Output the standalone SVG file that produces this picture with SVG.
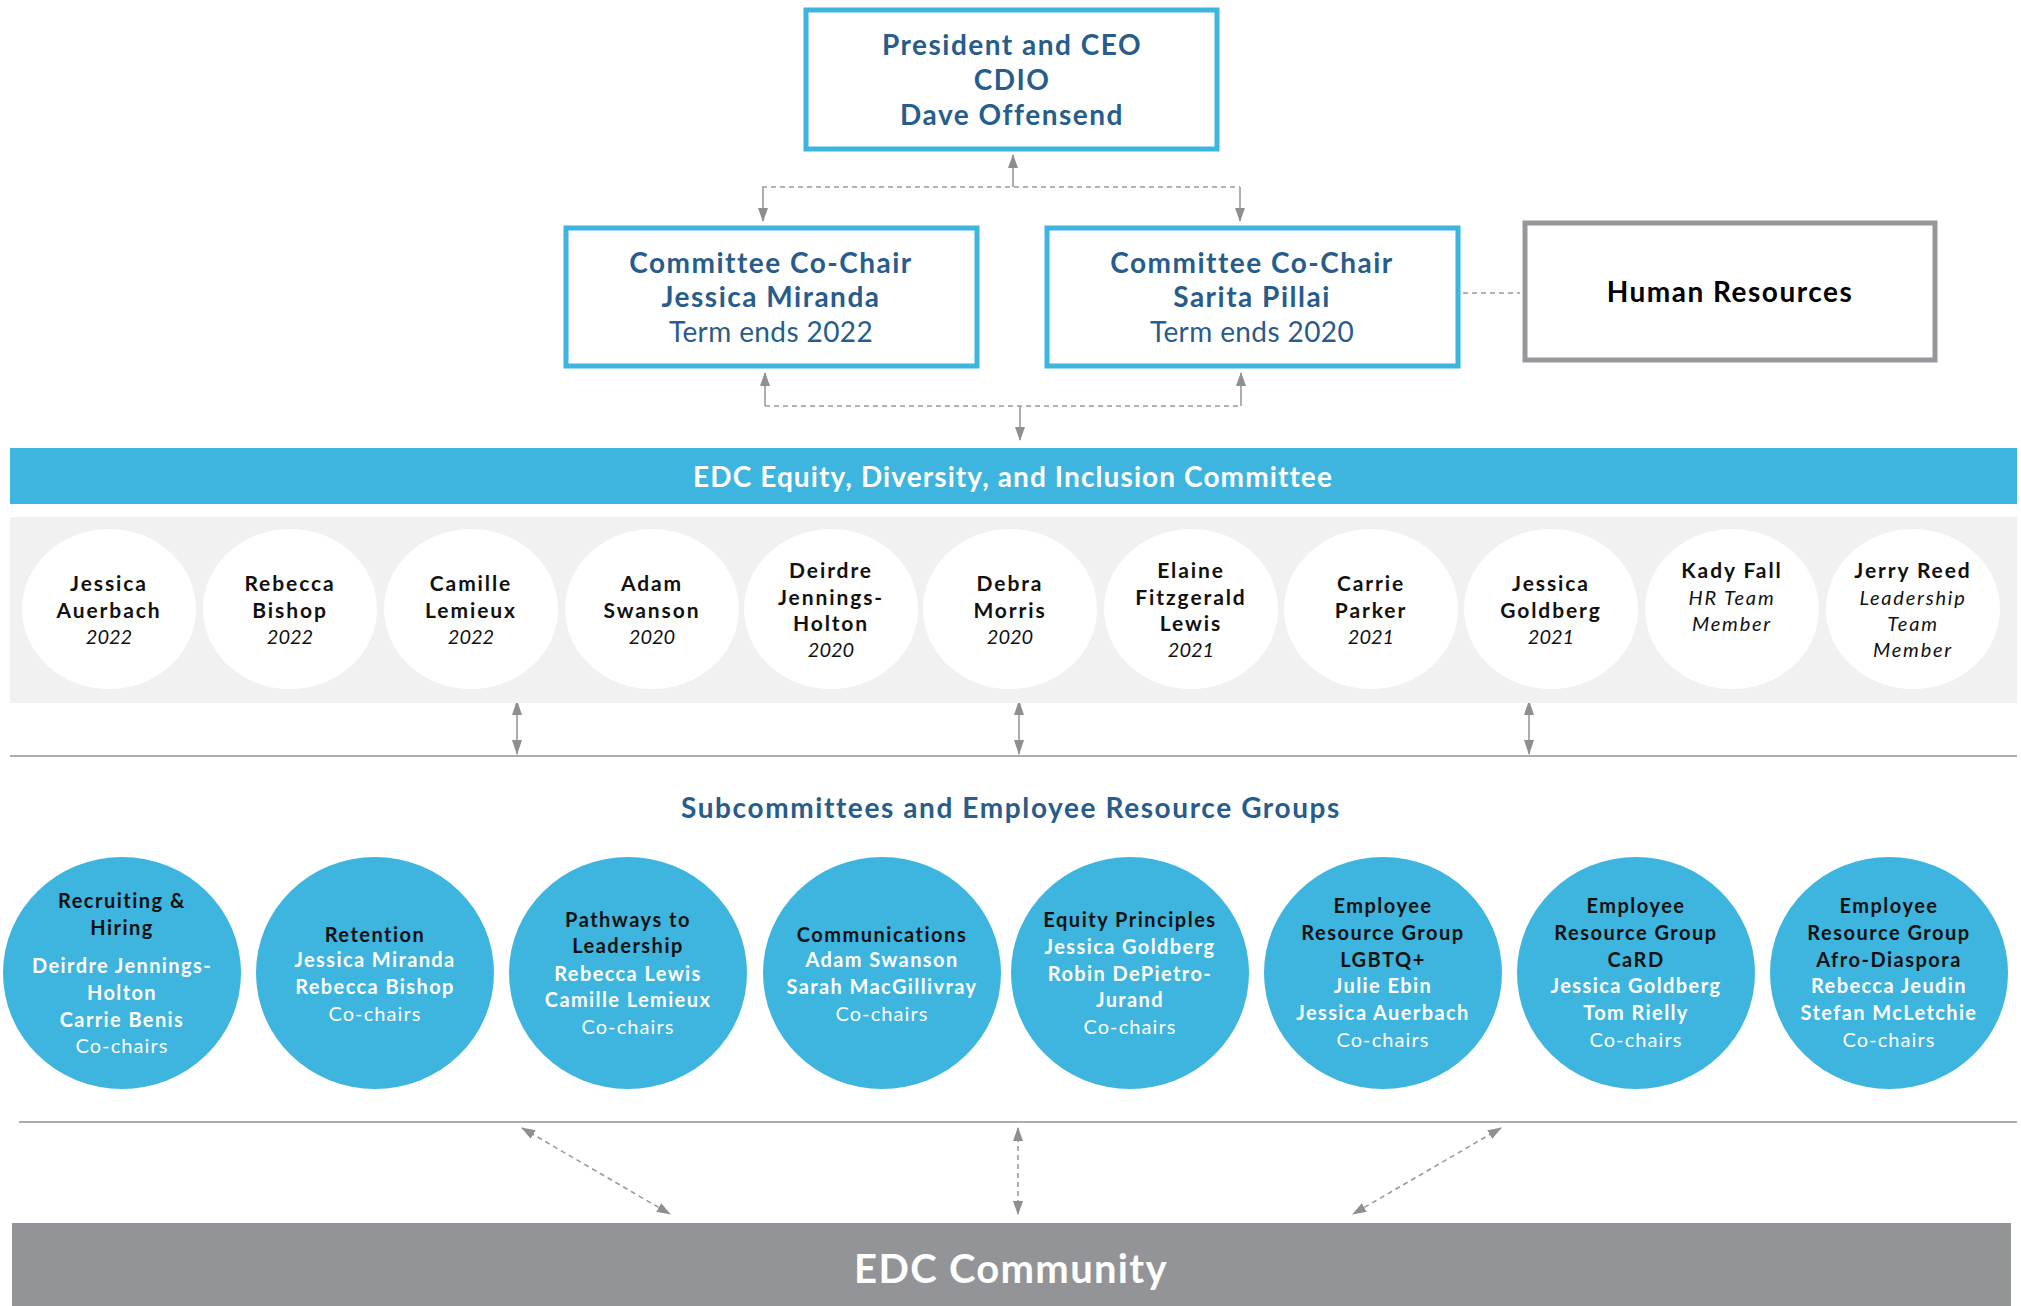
<svg xmlns="http://www.w3.org/2000/svg" width="2021" height="1306" viewBox="0 0 2021 1306">
<defs>
  <marker id="ah" viewBox="0 0 14 10" refX="13" refY="5" markerWidth="14" markerHeight="10" markerUnits="userSpaceOnUse" orient="auto-start-reverse">
    <path d="M0,0 L14,5 L0,10 z" fill="#8e8f93"/>
  </marker>
  <marker id="ahs" viewBox="0 0 15 10" refX="14" refY="5" markerWidth="15" markerHeight="10" markerUnits="userSpaceOnUse" orient="auto-start-reverse">
    <path d="M0,0 L15,5 L0,10 z" fill="#8e8f93"/>
  </marker>
</defs>
<style>
  .box { fill: #ffffff; stroke: #3db5df; stroke-width: 5; }
  .hr { fill: #ffffff; stroke: #96979b; stroke-width: 5; }
  .t { font-family: Lato, "Liberation Sans", sans-serif; text-anchor: middle; }
  .head { font-size: 28px; font-weight: bold; fill: #275c8b; letter-spacing: 1.5px; }
  .headr { font-size: 28px; font-weight: normal; fill: #275c8b; letter-spacing: 0.4px; }
  .mem { fill: #ffffff; }
  .nm { font-size: 21px; font-weight: bold; fill: #111111; letter-spacing: 1.9px; }
  .yr { font-size: 20px; font-style: italic; fill: #111111; }
  .role { font-size: 20px; font-style: italic; fill: #111111; letter-spacing: 1.8px; }
  .sub { fill: #3db5df; }
  .sh { font-size: 20px; font-weight: bold; fill: #111111; letter-spacing: 1.5px; }
  .sn { font-size: 20px; font-weight: bold; fill: #ffffff; letter-spacing: 1.4px; }
  .sc { font-size: 20px; font-weight: normal; fill: #ffffff; letter-spacing: 1.1px; }
  .dash { fill: none; stroke: #9a9a9e; stroke-width: 1.6; stroke-dasharray: 5 4; }
  .solid { fill: none; stroke: #9a9a9e; stroke-width: 1.6; }
  .rule { stroke: #adadad; stroke-width: 2; }
</style>

<!-- background -->
<rect x="0" y="0" width="2021" height="1306" fill="#ffffff"/>

<!-- connectors -->
<g id="connectors">
  <!-- president to co-chairs -->
  <line class="dash" x1="762" y1="187" x2="1240" y2="187"/>
  <line class="solid" x1="1013" y1="187" x2="1013" y2="155" marker-end="url(#ah)"/>
  <line class="solid" x1="763" y1="187" x2="763" y2="221" marker-end="url(#ah)"/>
  <line class="solid" x1="1240" y1="187" x2="1240" y2="221" marker-end="url(#ah)"/>
  <!-- co-chair to HR -->
  <line class="dash" x1="1463" y1="293" x2="1520" y2="293"/>
  <!-- co-chairs to committee -->
  <line class="dash" x1="765" y1="406" x2="1241" y2="406"/>
  <line class="solid" x1="765" y1="406" x2="765" y2="373" marker-end="url(#ah)"/>
  <line class="solid" x1="1241" y1="406" x2="1241" y2="373" marker-end="url(#ah)"/>
  <line class="solid" x1="1020" y1="406" x2="1020" y2="440" marker-end="url(#ah)"/>
  <!-- committee members to subcommittees -->
  <line class="solid" x1="517" y1="701" x2="517" y2="754" marker-start="url(#ahs)" marker-end="url(#ahs)"/>
  <line class="solid" x1="1019" y1="701" x2="1019" y2="754" marker-start="url(#ahs)" marker-end="url(#ahs)"/>
  <line class="solid" x1="1529" y1="701" x2="1529" y2="754" marker-start="url(#ahs)" marker-end="url(#ahs)"/>
  <line class="rule" x1="10" y1="756" x2="2017" y2="756"/>
  <!-- subcommittees to community -->
  <line class="rule" x1="19" y1="1122" x2="2017" y2="1122"/>
  <line class="dash" x1="522" y1="1128" x2="670" y2="1214" marker-start="url(#ah)" marker-end="url(#ah)"/>
  <line class="dash" x1="1018" y1="1128" x2="1018" y2="1214" marker-start="url(#ah)" marker-end="url(#ah)"/>
  <line class="dash" x1="1501" y1="1128" x2="1353" y2="1214" marker-start="url(#ah)" marker-end="url(#ah)"/>
</g>

<!-- leadership -->
<g id="president">
  <rect class="box" x="806" y="10" width="411" height="139"/>
  <text class="t head" x="1012" y="55">President and CEO</text>
  <text class="t head" x="1012" y="90">CDIO</text>
  <text class="t head" x="1012" y="125">Dave Offensend</text>
</g>
<g id="cochair-miranda">
  <rect class="box" x="566" y="228" width="411" height="138"/>
  <text class="t head" x="771" y="273">Committee Co-Chair</text>
  <text class="t head" x="771" y="307">Jessica Miranda</text>
  <text class="t headr" x="771" y="342">Term ends 2022</text>
</g>
<g id="cochair-pillai">
  <rect class="box" x="1047" y="228" width="411" height="138"/>
  <text class="t head" x="1252" y="273">Committee Co-Chair</text>
  <text class="t head" x="1252" y="307">Sarita Pillai</text>
  <text class="t headr" x="1252" y="342">Term ends 2020</text>
</g>
<g id="human-resources">
  <rect class="hr" x="1525" y="223" width="410" height="137"/>
  <text class="t" x="1730" y="302" font-size="28" font-weight="bold" fill="#000000" letter-spacing="1.5">Human Resources</text>
</g>

<!-- committee band -->
<g id="committee">
  <rect x="10" y="448" width="2007" height="56" fill="#3db5df"/>
  <text class="t" x="1013" y="487" font-size="28" font-weight="bold" fill="#ffffff" letter-spacing="1.1">EDC Equity, Diversity, and Inclusion Committee</text>
</g>

<!-- committee members -->
<g id="members">
  <rect x="10" y="517" width="2007" height="186" fill="#f1f1f1"/>
  <g id="m-auerbach">
    <ellipse class="mem" cx="109" cy="609" rx="87" ry="80"/>
    <text class="t nm" x="109" y="591">Jessica</text>
    <text class="t nm" x="109" y="618">Auerbach</text>
    <text class="t yr" x="109" y="644">2022</text>
  </g>
  <g id="m-bishop">
    <ellipse class="mem" cx="290" cy="609" rx="87" ry="80"/>
    <text class="t nm" x="290" y="591">Rebecca</text>
    <text class="t nm" x="290" y="618">Bishop</text>
    <text class="t yr" x="290" y="644">2022</text>
  </g>
  <g id="m-lemieux">
    <ellipse class="mem" cx="471" cy="609" rx="87" ry="80"/>
    <text class="t nm" x="471" y="591">Camille</text>
    <text class="t nm" x="471" y="618">Lemieux</text>
    <text class="t yr" x="471" y="644">2022</text>
  </g>
  <g id="m-swanson">
    <ellipse class="mem" cx="652" cy="609" rx="87" ry="80"/>
    <text class="t nm" x="652" y="591">Adam</text>
    <text class="t nm" x="652" y="618">Swanson</text>
    <text class="t yr" x="652" y="644">2020</text>
  </g>
  <g id="m-jennings-holton">
    <ellipse class="mem" cx="831" cy="609" rx="87" ry="80"/>
    <text class="t nm" x="831" y="578">Deirdre</text>
    <text class="t nm" x="831" y="605">Jennings-</text>
    <text class="t nm" x="831" y="631">Holton</text>
    <text class="t yr" x="831" y="657">2020</text>
  </g>
  <g id="m-morris">
    <ellipse class="mem" cx="1010" cy="609" rx="87" ry="80"/>
    <text class="t nm" x="1010" y="591">Debra</text>
    <text class="t nm" x="1010" y="618">Morris</text>
    <text class="t yr" x="1010" y="644">2020</text>
  </g>
  <g id="m-lewis">
    <ellipse class="mem" cx="1191" cy="609" rx="87" ry="80"/>
    <text class="t nm" x="1191" y="578">Elaine</text>
    <text class="t nm" x="1191" y="605">Fitzgerald</text>
    <text class="t nm" x="1191" y="631">Lewis</text>
    <text class="t yr" x="1191" y="657">2021</text>
  </g>
  <g id="m-parker">
    <ellipse class="mem" cx="1371" cy="609" rx="87" ry="80"/>
    <text class="t nm" x="1371" y="591">Carrie</text>
    <text class="t nm" x="1371" y="618">Parker</text>
    <text class="t yr" x="1371" y="644">2021</text>
  </g>
  <g id="m-goldberg">
    <ellipse class="mem" cx="1551" cy="609" rx="87" ry="80"/>
    <text class="t nm" x="1551" y="591">Jessica</text>
    <text class="t nm" x="1551" y="618">Goldberg</text>
    <text class="t yr" x="1551" y="644">2021</text>
  </g>
  <g id="m-fall">
    <ellipse class="mem" cx="1732" cy="609" rx="87" ry="80"/>
    <text class="t nm" x="1732" y="578">Kady Fall</text>
    <text class="t role" x="1732" y="605">HR Team</text>
    <text class="t role" x="1732" y="631">Member</text>
  </g>
  <g id="m-reed">
    <ellipse class="mem" cx="1913" cy="609" rx="87" ry="80"/>
    <text class="t nm" x="1913" y="578">Jerry Reed</text>
    <text class="t role" x="1913" y="605">Leadership</text>
    <text class="t role" x="1913" y="631">Team</text>
    <text class="t role" x="1913" y="657">Member</text>
  </g>
</g>

<!-- subcommittees heading -->
<text class="t" x="1011" y="818" font-size="28" font-weight="bold" fill="#275c8b" letter-spacing="1.6">Subcommittees and Employee Resource Groups</text>

<!-- subcommittees and employee resource groups -->
<g id="subcommittees">
  <g id="s-recruiting">
    <ellipse class="sub" cx="122" cy="973" rx="119" ry="116"/>
    <text class="t sh" x="122" y="908">Recruiting &amp;</text>
    <text class="t sh" x="122" y="935">Hiring</text>
    <text class="t sn" x="122" y="973">Deirdre Jennings-</text>
    <text class="t sn" x="122" y="1000">Holton</text>
    <text class="t sn" x="122" y="1027">Carrie Benis</text>
    <text class="t sc" x="122" y="1053">Co-chairs</text>
  </g>
  <g id="s-retention">
    <ellipse class="sub" cx="375" cy="973" rx="119" ry="116"/>
    <text class="t sh" x="375" y="942">Retention</text>
    <text class="t sn" x="375" y="967">Jessica Miranda</text>
    <text class="t sn" x="375" y="994">Rebecca Bishop</text>
    <text class="t sc" x="375" y="1021">Co-chairs</text>
  </g>
  <g id="s-pathways">
    <ellipse class="sub" cx="628" cy="973" rx="119" ry="116"/>
    <text class="t sh" x="628" y="927">Pathways to</text>
    <text class="t sh" x="628" y="953">Leadership</text>
    <text class="t sn" x="628" y="981">Rebecca Lewis</text>
    <text class="t sn" x="628" y="1007">Camille Lemieux</text>
    <text class="t sc" x="628" y="1034">Co-chairs</text>
  </g>
  <g id="s-communications">
    <ellipse class="sub" cx="882" cy="973" rx="119" ry="116"/>
    <text class="t sh" x="882" y="942">Communications</text>
    <text class="t sn" x="882" y="967">Adam Swanson</text>
    <text class="t sn" x="882" y="994">Sarah MacGillivray</text>
    <text class="t sc" x="882" y="1021">Co-chairs</text>
  </g>
  <g id="s-equity">
    <ellipse class="sub" cx="1130" cy="973" rx="119" ry="116"/>
    <text class="t sh" x="1130" y="927">Equity Principles</text>
    <text class="t sn" x="1130" y="954">Jessica Goldberg</text>
    <text class="t sn" x="1130" y="981">Robin DePietro-</text>
    <text class="t sn" x="1130" y="1007">Jurand</text>
    <text class="t sc" x="1130" y="1034">Co-chairs</text>
  </g>
  <g id="s-lgbtq">
    <ellipse class="sub" cx="1383" cy="973" rx="119" ry="116"/>
    <text class="t sh" x="1383" y="913">Employee</text>
    <text class="t sh" x="1383" y="940">Resource Group</text>
    <text class="t sh" x="1383" y="967">LGBTQ+</text>
    <text class="t sn" x="1383" y="993">Julie Ebin</text>
    <text class="t sn" x="1383" y="1020">Jessica Auerbach</text>
    <text class="t sc" x="1383" y="1047">Co-chairs</text>
  </g>
  <g id="s-card">
    <ellipse class="sub" cx="1636" cy="973" rx="119" ry="116"/>
    <text class="t sh" x="1636" y="913">Employee</text>
    <text class="t sh" x="1636" y="940">Resource Group</text>
    <text class="t sh" x="1636" y="967">CaRD</text>
    <text class="t sn" x="1636" y="993">Jessica Goldberg</text>
    <text class="t sn" x="1636" y="1020">Tom Rielly</text>
    <text class="t sc" x="1636" y="1047">Co-chairs</text>
  </g>
  <g id="s-afro-diaspora">
    <ellipse class="sub" cx="1889" cy="973" rx="119" ry="116"/>
    <text class="t sh" x="1889" y="913">Employee</text>
    <text class="t sh" x="1889" y="940">Resource Group</text>
    <text class="t sh" x="1889" y="967">Afro-Diaspora</text>
    <text class="t sn" x="1889" y="993">Rebecca Jeudin</text>
    <text class="t sn" x="1889" y="1020">Stefan McLetchie</text>
    <text class="t sc" x="1889" y="1047">Co-chairs</text>
  </g>
</g>

<!-- community band -->
<g id="community">
  <rect x="12" y="1223" width="1999" height="83" fill="#939498"/>
  <text class="t" x="1011" y="1283" font-size="40" font-weight="bold" fill="#ffffff" letter-spacing="1.3">EDC Community</text>
</g>
</svg>
